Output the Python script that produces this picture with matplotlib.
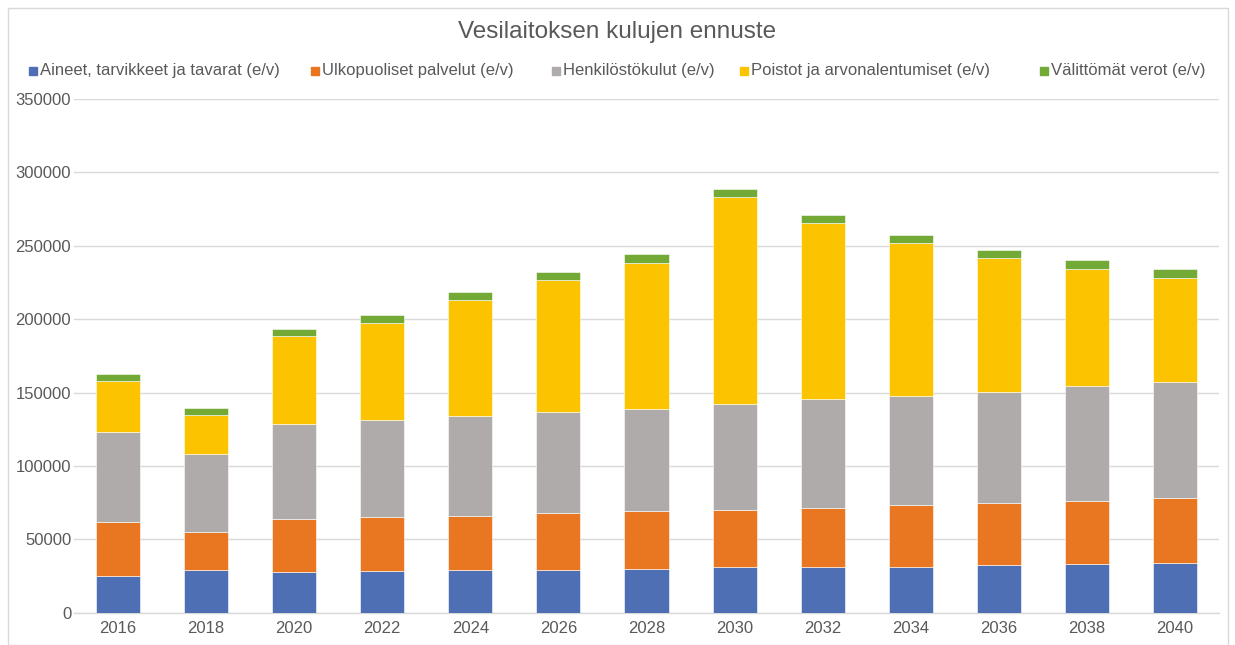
import matplotlib
matplotlib.use('Agg')
import matplotlib.pyplot as plt
from matplotlib.patches import Rectangle
import numpy as np

plt.rcParams['font.family'] = ['Liberation Sans', 'DejaVu Sans']

years = ['2016', '2018', '2020', '2022', '2024', '2026', '2028',
         '2030', '2032', '2034', '2036', '2038', '2040']

aineet = [25200, 29100, 27500, 28200, 29100, 29300, 30000, 31000, 31400, 31400, 32300, 33200, 33900]
ulkopuoliset = [36400, 26100, 36200, 37200, 37000, 38500, 39400, 39300, 40200, 41900, 42700, 43200, 44100]
henkilosto = [61600, 52800, 65200, 65800, 68200, 68900, 69600, 71900, 73700, 74500, 75700, 77800, 79100]
poistot = [34800, 27000, 59300, 66400, 78900, 90000, 99600, 140700, 120300, 104300, 91000, 79800, 71100]
verot = [4600, 4800, 5300, 5500, 5400, 5700, 5500, 5500, 5500, 5500, 5700, 6100, 6300]

series = [aineet, ulkopuoliset, henkilosto, poistot, verot]
names = ['Aineet, tarvikkeet ja tavarat (e/v)', 'Ulkopuoliset palvelut (e/v)',
         'Henkilöstökulut (e/v)', 'Poistot ja arvonalentumiset (e/v)', 'Välittömät verot (e/v)']
colors = ['#4E6FB4', '#E97721', '#AFABAB', '#FBC300', '#73A935']

text_col = '#595959'
grid_col = '#D9D9D9'

fig = plt.figure(figsize=(12.35, 6.45), dpi=100)
ax = fig.add_axes([74 / 1235, 1 - 612.7 / 645, (1219 - 74) / 1235, (612.7 - 99) / 645])

x = np.arange(len(years))
bottom = np.zeros(len(years))
for vals, col in zip(series, colors):
    ax.bar(x, vals, width=0.5, bottom=bottom, color=col, edgecolor='white', linewidth=0.4, zorder=3)
    bottom += np.array(vals)

ax.set_xlim(-0.5, len(years) - 0.5)
ax.set_ylim(0, 350000)
ax.set_yticks(np.arange(0, 350001, 50000))
ax.set_yticklabels([str(v) for v in range(0, 350001, 50000)])
ax.set_xticks(x)
ax.set_xticklabels(years)
ax.tick_params(axis='both', length=0, labelsize=12, colors=text_col)
ax.tick_params(axis='y', pad=2)
ax.tick_params(axis='x', pad=6)
ax.grid(axis='y', color=grid_col, linewidth=1, zorder=0)
for s in ['top', 'right', 'left']:
    ax.spines[s].set_visible(False)
ax.spines['bottom'].set_color(grid_col)
ax.spines['bottom'].set_linewidth(1)

fig.text(0.5, 1 - 32 / 645, 'Vesilaitoksen kulujen ennuste', ha='center', va='center',
         fontsize=17.5, color=text_col)

# legend placed like in the original
marker_x = [29, 311, 552, 740, 1040]
for mx, name, col in zip(marker_x, names, colors):
    fig.patches.append(Rectangle((mx / 1235, 1 - 75 / 645), 8 / 1235, 8 / 645,
                                 transform=fig.transFigure, color=col, figure=fig))
    fig.text((mx + 11) / 1235, 1 - 70.5 / 645, name, ha='left', va='center',
             fontsize=12, color=text_col)

fig.patches.append(Rectangle((8 / 1235, 0), 1220 / 1235, 1 - 8 / 645, transform=fig.transFigure,
                             fill=False, edgecolor=grid_col, linewidth=1, figure=fig))

fig.savefig('out.png', dpi=100)
